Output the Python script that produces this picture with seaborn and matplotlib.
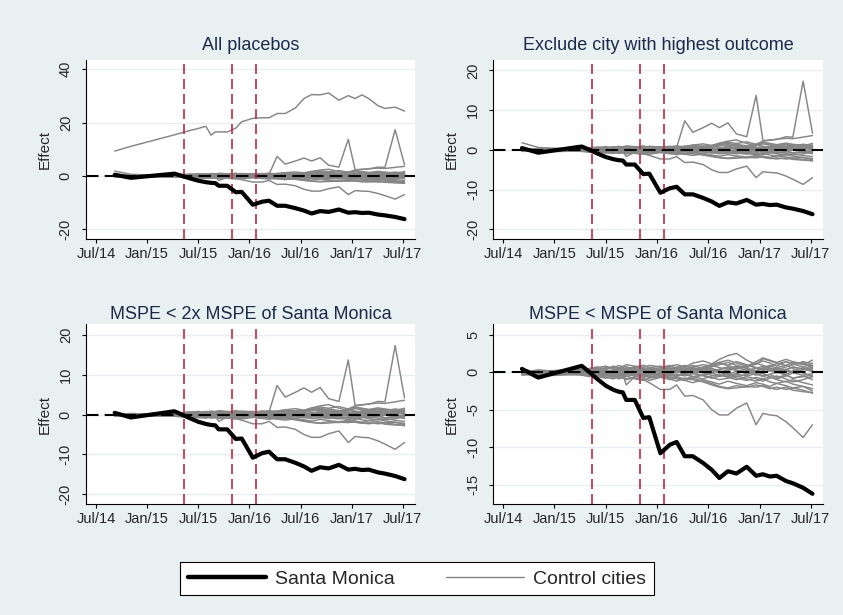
import matplotlib
matplotlib.use("Agg")
import matplotlib.pyplot as plt
from matplotlib.lines import Line2D
import pandas as pd
import seaborn as sns

# months since Jul 2014
MONTHS = [2.2, 4.1, 9.2, 10.1, 11.0, 12.0, 12.9, 13.5, 14.0, 14.4, 15.4, 16.4, 17.1, 18.4, 19.5, 20.3,
          21.25, 22.2, 23.4, 24.4, 25.3, 26.3, 27.3, 28.5, 29.6, 30.4, 31.2, 32.0, 33.1, 33.9, 35.1, 36.2]

SANTA_MONICA = [0.44, -0.72, 0.84, 0.0, -0.9, -1.8, -2.35, -2.6, -2.7, -3.7, -3.7, -6.1, -6.0, -10.8, -9.67, -9.3,
                -11.2, -11.2, -12.1, -13.0, -14.1, -13.2, -13.5, -12.6, -13.8, -13.6, -13.9, -13.8, -14.5, -14.8, -15.4, -16.2]

# control cities
CITY_HIGH = [9.3, 11.1, 15.4, 16.2, 17.0, 17.8, 18.6, 15.3, 16.5, 16.5, 16.5, 17.9, 20.3, 21.6, 21.8, 21.8,
             23.4, 23.4, 25.5, 29.0, 30.5, 30.4, 31.1, 28.4, 30.1, 29.0, 30.4, 29.0, 26.3, 25.3, 25.8, 24.3]
CITY_SPIKE = [0.3, 0.0, 0.2, 0.1, 0.3, 0.5, 0.2, 0.4, 0.6, 0.3, 0.5, 0.4, 0.2, 0.6, 0.3, 0.6,
              7.3, 4.4, 5.6, 6.7, 5.6, 6.8, 4.0, 3.3, 13.7, 2.3, 2.5, 2.6, 3.3, 3.2, 17.3, 4.2]
CITY_EARLY = [1.8, 0.6, 0.1, -0.2, 0.0, 0.3, 0.1, -0.2, 0.2, 0.4, 0.1, -0.1, 0.3, 0.5, 0.2, 0.0,
              0.3, 0.6, 0.4, 0.1, -0.2, 0.2, 0.5, 0.8, 0.4, 0.1, 0.5, 0.9, 0.6, 0.3, 0.7, 1.0]
CITY_MID = [-0.2, 0.1, 0.3, 0.5, 0.3, 0.6, 0.4, 0.7, 0.5, 0.8, 0.6, 0.9, 0.7, 0.5, 0.8, 0.6,
            0.9, 1.2, 0.8, 1.1, 1.5, 1.9, 1.6, 2.0, 1.4, 2.2, 2.4, 2.7, 2.9, 2.8, 3.2, 3.6]
CITY_NEG = [-0.3, -0.4, -0.2, 0.0, -0.3, -0.5, -0.4, -0.7, -0.6, -0.9, -0.8, -1.0, -1.4, -2.3, -2.3, -1.7,
            -3.2, -3.1, -3.7, -5.0, -5.7, -5.7, -4.8, -4.1, -7.0, -5.5, -5.7, -5.8, -6.6, -7.4, -8.7, -7.0]

SMALL_01 = [0.2, -0.3, 0.1, 0.3, 0.5, 0.4, 0.6, 0.5, 0.8, 0.7, 0.5, 0.9, 0.6, 0.4, 0.8, 1.0,
            0.7, 1.2, 1.5, 1.1, 1.7, 2.2, 2.5, 1.6, 1.0, 1.8, 1.5, 1.2, 0.9, 1.3, 1.0, 1.6]
SMALL_02 = [0.1, 0.2, 0.0, -0.2, -0.4, -0.1, 0.2, 0.0, -0.3, -1.7, -0.6, -0.2, 0.1, 0.3, -0.1, -0.4,
            -0.2, 0.0, 0.3, 0.5, 0.2, -0.3, 0.1, 0.4, 0.0, -0.2, 0.3, 0.6, 0.2, -0.1, 0.4, 0.9]
SMALL_03 = [-0.2, 0.1, 0.3, 0.2, 0.6, 0.8, 0.5, 0.9, 0.7, 1.0, 0.8, 0.6, 0.9, 0.7, 0.4, 0.6,
            0.9, 0.5, 0.3, 0.7, 1.0, 1.3, 0.9, 0.6, 1.1, 1.5, 1.2, 0.8, 1.4, 1.1, 0.7, 1.2]
SMALL_04 = [0.4, 0.0, -0.1, -0.3, -0.6, -0.8, -0.5, -0.9, -0.7, -1.0, -0.6, -0.8, -1.1, -0.7, -0.9, -1.2,
            -0.8, -1.0, -1.3, -1.7, -2.0, -2.2, -2.1, -1.9, -2.0, -1.8, -2.1, -2.3, -2.0, -2.4, -2.6, -2.7]
SMALL_05 = [-0.4, -0.2, 0.2, 0.4, 0.2, 0.1, -0.2, 0.1, 0.3, 0.0, 0.2, 0.5, 0.3, 0.0, -0.3, 0.1,
            0.4, 0.2, -0.1, -0.4, -0.6, -0.3, -0.8, -1.1, -0.7, -0.9, -1.3, -1.5, -1.2, -1.6, -1.9, -2.2]
SMALL_06 = [0.0, 0.3, -0.2, 0.0, 0.3, 0.6, 0.4, 0.2, 0.5, 0.3, 0.7, 0.9, 0.6, 0.8, 0.5, 0.2,
            0.4, 0.7, 1.0, 0.8, 1.2, 0.9, 1.4, 1.0, 0.6, 0.3, 0.8, 1.1, 1.4, 1.0, 1.3, 0.5]
SMALL_07 = [-0.1, -0.5, -0.3, -0.5, -0.2, -0.4, -0.7, -0.5, -0.2, -0.4, -0.1, -0.3, -0.6, -0.4, -0.8, -0.5,
            -0.2, -0.6, -0.9, -0.5, -0.3, -0.7, -1.0, -0.6, -0.9, -1.2, -0.8, -0.5, -0.9, -1.3, -1.0, -0.6]
SMALL_08 = [0.3, 0.1, 0.4, 0.1, -0.1, 0.2, 0.0, -0.3, -0.1, 0.2, 0.4, 0.1, -0.2, -0.5, -0.2, 0.1,
            -0.3, -0.6, -0.4, -0.1, 0.3, 0.6, 0.2, -0.2, 0.1, 0.5, 0.2, -0.1, 0.3, 0.7, 0.4, 0.1]
SMALL_09 = [-0.3, 0.0, -0.4, -0.6, -0.4, -0.7, -0.9, -0.6, -0.8, -0.5, -0.9, -1.1, -0.8, -0.6, -1.0, -0.7,
            -1.1, -1.4, -1.0, -1.3, -1.6, -1.2, -1.5, -1.8, -1.4, -1.6, -1.9, -1.5, -1.8, -2.1, -1.9, -2.5]
SMALL_10 = [0.1, -0.1, 0.2, 0.5, 0.7, 0.4, 0.8, 0.6, 0.3, 0.5, 0.2, 0.0, 0.3, 0.6, 0.9, 0.5,
            0.2, 0.6, 0.4, 0.9, 1.3, 1.6, 1.2, 0.8, 1.4, 1.9, 1.6, 1.3, 1.7, 1.4, 1.1, 0.8]
SMALL_11 = [-0.2, 0.2, 0.0, -0.1, 0.1, -0.2, 0.1, 0.3, 0.1, -0.2, -0.5, -0.3, 0.0, -0.2, 0.1, -0.1,
            0.2, -0.1, -0.5, -0.8, -0.5, -0.2, -0.6, -0.3, 0.1, -0.2, -0.6, -0.9, -0.5, -0.1, -0.4, -0.2]
SMALL_12 = [0.2, -0.1, -0.2, 0.0, -0.3, 0.0, 0.3, 0.5, 0.2, 0.4, 0.1, -0.2, -0.4, -0.1, 0.2, 0.5,
            0.3, 0.0, 0.4, 0.2, -0.1, 0.2, 0.5, 0.9, 0.6, 0.2, 0.5, 0.2, -0.3, 0.2, 0.6, 0.3]
SMALL_13 = [0.0, -0.2, 0.1, 0.2, 0.0, 0.3, 0.1, -0.1, 0.2, 0.0, -0.2, -0.5, -0.7, -0.4, -0.6, -0.9,
            -1.1, -0.8, -1.2, -1.5, -1.9, -2.1, -1.8, -2.0, -1.7, -1.9, -2.2, -2.0, -2.3, -2.1, -2.4, -2.8]
SMALL_14 = [-0.1, 0.1, -0.1, -0.3, -0.1, 0.1, -0.2, 0.0, 0.4, 0.6, 0.3, 0.1, 0.4, 0.2, 0.0, 0.3,
            0.6, 0.9, 0.5, 0.1, 0.4, 0.7, 0.3, 0.0, -0.4, -0.1, 0.2, 0.6, 0.9, 0.5, -0.1, -0.6]
SMALL_15 = [0.1, 0.0, -0.3, -0.1, 0.2, -0.1, -0.3, -0.6, -0.3, -0.1, 0.1, 0.3, 0.0, -0.3, 0.0, 0.3,
            0.0, 0.3, 0.7, 1.0, 1.3, 0.9, 0.5, 0.8, 1.2, 0.9, 0.6, 0.3, 0.7, 1.0, 1.4, 1.1]
SMALL_16 = [-0.3, -0.1, 0.1, 0.2, 0.4, 0.2, -0.1, 0.2, 0.5, 0.3, 0.6, 0.4, 0.1, 0.3, 0.6, 0.4,
            0.1, -0.2, 0.1, 0.4, 0.0, -0.4, -0.2, 0.2, -0.2, -0.6, -0.3, 0.0, -0.4, -0.8, -0.5, -1.0]
SMALL_17 = [0.0, 0.1, -0.1, 0.1, -0.1, -0.3, -0.1, 0.2, 0.0, -0.2, 0.1, 0.3, 0.5, 0.2, 0.4, 0.7,
            0.5, 0.3, 0.6, 0.9, 0.6, 0.4, 0.8, 0.5, 0.2, 0.6, 0.9, 0.5, 0.3, 0.7, 0.4, 0.2]
SMALL_18 = [-0.2, -0.3, 0.1, -0.1, -0.3, -0.5, -0.3, -0.1, -0.4, -0.6, -0.3, -0.5, -0.2, -0.5, -0.3, -0.6,
            -0.9, -0.6, -0.4, -0.7, -1.0, -0.8, -0.5, -0.9, -1.2, -0.9, -0.6, -1.0, -1.3, -1.0, -1.4, -1.7]
SMALL_19 = [0.1, 0.2, 0.2, 0.4, 0.1, -0.1, 0.2, 0.4, 0.6, 0.4, 0.7, 0.5, 0.3, 0.1, 0.4, 0.2,
            -0.1, 0.2, 0.5, 0.3, 0.0, 0.3, 0.6, 0.3, 0.5, 0.8, 0.4, 0.1, 0.4, 0.0, 0.3, 0.6]
SMALL_20 = [-0.1, 0.0, 0.0, -0.2, -0.4, -0.2, -0.5, -0.3, -0.5, -0.2, -0.4, -0.7, -0.4, -0.2, -0.5, -0.3,
            -0.5, -0.2, -0.4, -0.1, -0.4, -0.6, -0.3, -0.5, -0.2, -0.5, -0.3, -0.7, -0.4, -0.8, -0.6, -0.4]

SMALL = [SMALL_01, SMALL_02, SMALL_03, SMALL_04, SMALL_05, SMALL_06, SMALL_07, SMALL_08, SMALL_09, SMALL_10,
         SMALL_11, SMALL_12, SMALL_13, SMALL_14, SMALL_15, SMALL_16, SMALL_17, SMALL_18, SMALL_19, SMALL_20]

# treatment-related dates (months since Jul 2014)
EVENT_MONTHS = [10.35, 16.0, 18.8]

TICK_POS = [0, 6, 12, 18, 24, 30, 36]
TICK_LABELS = ["Jul/14", "Jan/15", "Jul/15", "Jan/16", "Jul/16", "Jan/17", "Jul/17"]

PANELS = [
    ("All placebos", [CITY_HIGH, CITY_SPIKE, CITY_EARLY, CITY_MID, CITY_NEG] + SMALL,
     [-20, 0, 20, 40], (-23.75, 43.6)),
    ("Exclude city with highest outcome", [CITY_SPIKE, CITY_EARLY, CITY_MID, CITY_NEG] + SMALL,
     [-20, -10, 0, 10, 20], (-22.5, 22.7)),
    ("MSPE < 2x MSPE of Santa Monica", [CITY_SPIKE, CITY_MID, CITY_NEG] + SMALL,
     [-20, -10, 0, 10, 20], (-22.5, 22.7)),
    ("MSPE < MSPE of Santa Monica", [CITY_NEG] + SMALL,
     [-15, -10, -5, 0, 5], (-17.6, 6.4)),
]

BG = "#e9f0f2"
GRID = "#e6eef1"
GRAY = "#868686"
RED = "#c0283c"
NAVY = "#1c2a4a"

sns.set_style("white")
plt.rcParams["font.family"] = ["Liberation Sans", "DejaVu Sans"]

fig = plt.figure(figsize=(8.43, 6.15), dpi=100, facecolor=BG)

positions = [
    [0.102, 0.611, 0.390, 0.292],
    [0.585, 0.611, 0.391, 0.292],
    [0.102, 0.180, 0.390, 0.293],
    [0.585, 0.180, 0.391, 0.293],
]
title_pads = [7, 7, 3.5, 3.5]

sm = pd.DataFrame({"month": MONTHS, "effect": SANTA_MONICA})

for pos, pad, (title, cities, yticks, ylim) in zip(positions, title_pads, PANELS):
    ax = fig.add_axes(pos)
    ax.set_facecolor("white")

    frames = []
    for i, vals in enumerate(cities):
        frames.append(pd.DataFrame({"month": MONTHS, "effect": vals, "city": i}))
    ctrl = pd.concat(frames, ignore_index=True)

    for y in yticks:
        ax.axhline(y, color=GRID, lw=1.0, zorder=0)

    sns.lineplot(data=ctrl, x="month", y="effect", units="city", estimator=None,
                 color=GRAY, lw=1.05, ax=ax, legend=False, zorder=2)
    ax.axhline(0, color="black", lw=1.5, ls=(0, (6, 3)), zorder=3)
    for m in EVENT_MONTHS:
        ax.axvline(m, color=RED, lw=1.2, ls=(0, (6, 3)), zorder=4)
    sns.lineplot(data=sm, x="month", y="effect", color="black", lw=3.0, ax=ax, zorder=5)

    ax.set_xlim(-1.17, 37.4)
    ax.set_ylim(*ylim)
    ax.set_xticks(TICK_POS)
    ax.set_xticklabels(TICK_LABELS)
    ax.set_yticks(yticks)
    ax.set_yticklabels([str(t) for t in yticks], rotation=90, va="center")
    ax.tick_params(axis="both", labelsize=10.5, length=3, width=0.8, color="black",
                   direction="out", bottom=True, left=True)
    ax.tick_params(axis="y", pad=6.5)
    ax.tick_params(axis="x", pad=2.5)

    for s in ["top", "right"]:
        ax.spines[s].set_visible(False)
    for s in ["left", "bottom"]:
        ax.spines[s].set_color("black")
        ax.spines[s].set_linewidth(0.8)

    ax.set_xlabel("")
    ax.set_ylabel("Effect", fontsize=11, labelpad=5)
    ax.set_title(title, fontsize=13, color=NAVY, pad=pad)

handles = [Line2D([], [], color="black", lw=3.2), Line2D([], [], color=GRAY, lw=1.0)]
leg = fig.legend(handles, ["Santa Monica", "Control cities"], loc="center",
                 bbox_to_anchor=(0.2135, 0.027, 0.5625, 0.0636), mode="expand", ncol=2,
                 fontsize=14, handlelength=4.0, handletextpad=0.5, borderpad=0.4,
                 borderaxespad=0, fancybox=False, framealpha=1, edgecolor="black")
leg.get_frame().set_linewidth(0.8)

fig.savefig("out.png", dpi=100, facecolor=BG)
